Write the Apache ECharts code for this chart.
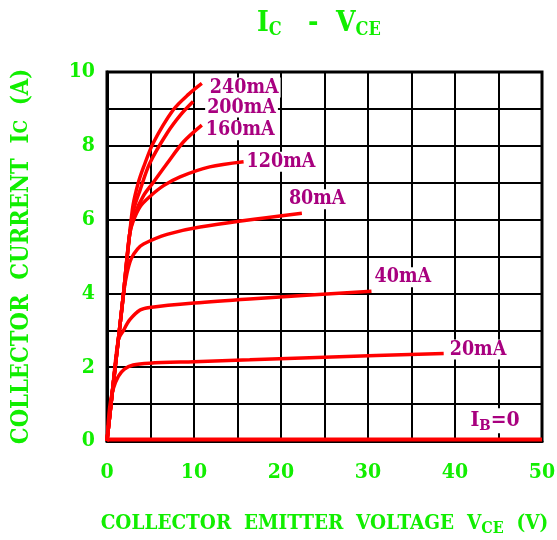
<!DOCTYPE html>
<html><head><meta charset="utf-8">
<script src="https://cdn.jsdelivr.net/npm/echarts@6/dist/echarts.min.js"></script>
<style>html,body{margin:0;padding:0;background:#fff}#c{width:557px;height:540px}</style>
</head><body><div id="c"></div>
<script>
const xTicks = [0, 10, 20, 30, 40, 50];
const yTicks = [0, 2, 4, 6, 8, 10];
const seriesNames = ['240mA', '200mA', '160mA', '120mA', '80mA', '40mA', '20mA', 'IB=0'];
const ib240 = [[0,0],[0.6,1.3],[1.3,2.74],[1.9,4.0],[2.6,5.6],[3.0,6.4],[3.6,7.0],[4.2,7.42],[5.3,8.07],[7.6,8.97],[9.4,9.4],[10.9,9.69]];
const ib200 = [[0,0],[0.6,1.3],[1.3,2.74],[1.9,4.0],[2.6,5.6],[3.1,6.3],[3.8,6.8],[4.9,7.52],[6.9,8.34],[8.5,8.85],[9.9,9.2]];
const ib160 = [[0,0],[0.6,1.3],[1.3,2.74],[1.9,4.0],[2.6,5.6],[3.2,6.15],[4.2,6.65],[5.3,7.0],[6.9,7.52],[8.8,8.11],[10.9,8.56]];
const ib120 = [[0,0],[0.6,1.3],[1.3,2.74],[1.9,4.0],[2.6,5.6],[3.0,5.95],[3.8,6.35],[4.9,6.62],[6.5,6.92],[8.4,7.16],[11.8,7.43],[15.7,7.57]];
const ib80  = [[0,0],[0.6,1.3],[1.3,2.74],[1.9,4.0],[2.3,4.55],[2.8,4.95],[3.5,5.2],[4.2,5.34],[6.9,5.6],[10.7,5.8],[22.4,6.17]];
const ib40  = [[0,0],[0.6,1.3],[1.3,2.74],[1.9,3.0],[2.6,3.28],[3.8,3.55],[4.9,3.62],[10,3.74],[16.4,3.85],[30.4,4.06]];
const ib20  = [[0,0],[0.3,0.9],[0.7,1.4],[1.3,1.75],[2,1.95],[3,2.06],[4.9,2.11],[10,2.15],[16.4,2.2],[25,2.27],[38.7,2.37]];
const ib0   = [[0,0.04],[50,0.04]];

const GREEN = '#11ee00';
const MAG = '#a8007f';
const FONT = '"DejaVu Serif Condensed", "DejaVu Serif", serif';
const offsets = [[-2,4],[4,6],[-6,5],[-7,0],[-23,-14],[-7,-14],[-4,-4]];
const allData = [ib240, ib200, ib160, ib120, ib80, ib40, ib20];

const series = allData.map((d, i) => ({
  name: seriesNames[i], type: 'line', data: d, smooth: 0.3, showSymbol: false,
  lineStyle: {color: '#ff0000', width: 3.5}, z: 5,
  endLabel: {show: true, formatter: seriesNames[i], color: MAG, fontFamily: FONT, fontWeight: 'bold',
    fontSize: 19.5, backgroundColor: '#fff', padding: [0,2], offset: offsets[i]}
}));
series.push({name: seriesNames[7], type: 'line', data: ib0, showSymbol: false,
  lineStyle: {color: '#ff0000', width: 4}, z: 6,
  markPoint: {symbol: 'rect', symbolSize: 1, itemStyle: {color: 'transparent'},
    data: [{coord: [44.6, 0.55], label: {show: true, formatter: '{a|I}{b|B}{a|=0}', backgroundColor: '#fff', padding: [0,2],
      rich: {a: {color: MAG, fontFamily: FONT, fontWeight: 'bold', fontSize: 21},
             b: {color: MAG, fontFamily: FONT, fontWeight: 'bold', fontSize: 15, verticalAlign: 'bottom', padding: [10,0,0,0]}}}}]}
});

const chart = echarts.init(document.getElementById('c'));
chart.setOption({
  animation: false,
  backgroundColor: '#fff',
  title: {left: 252, top: 4, text: '{a|I}{b|C}{a|   -  V}{b|CE}',
    textStyle: {rich: {a: {color: GREEN, fontFamily: FONT, fontWeight: 'bold', fontSize: 28},
      b: {color: GREEN, fontFamily: FONT, fontWeight: 'bold', fontSize: 18, verticalAlign: 'bottom', padding: [12,0,0,0]}}}},
  grid: {left: 107, right: 15, top: 72, bottom: 99, outerBoundsMode: 'none', show: true, borderColor: '#000', borderWidth: 3, backgroundColor: '#fff'},
  xAxis: {type: 'value', min: 0, max: 50, interval: 5,
    name: '{a|COLLECTOR  EMITTER  VOLTAGE  V}{b|CE}{a|  (V)}', nameLocation: 'middle', nameGap: 70,
    nameTextStyle: {rich: {a: {color: GREEN, fontFamily: FONT, fontWeight: 'bold', fontSize: 20.5},
      b: {color: GREEN, fontFamily: FONT, fontWeight: 'bold', fontSize: 16, verticalAlign: 'bottom', padding: [10,0,0,0]}}},
    axisLine: {lineStyle: {color: '#000', width: 3}}, axisTick: {show: false},
    axisLabel: {color: GREEN, fontFamily: FONT, fontWeight: 'bold', fontSize: 21, margin: 21,
      formatter: v => xTicks.includes(v) ? String(v) : ''},
    splitLine: {lineStyle: {color: '#000', width: 2}}},
  yAxis: {type: 'value', min: 0, max: 10, interval: 1,
    name: '{a|COLLECTOR  CURRENT  I}{b|C}{a|  (A)}', nameLocation: 'middle', nameGap: 73,
    nameTextStyle: {rich: {a: {color: GREEN, fontFamily: FONT, fontWeight: 'bold', fontSize: 23.5},
      b: {color: GREEN, fontFamily: FONT, fontWeight: 'bold', fontSize: 19}}},
    axisLine: {lineStyle: {color: '#000', width: 3}}, axisTick: {show: false},
    axisLabel: {color: GREEN, fontFamily: FONT, fontWeight: 'bold', fontSize: 21, margin: 12,
      formatter: v => yTicks.includes(v) ? String(v) : ''},
    splitLine: {lineStyle: {color: '#000', width: 2}}},
  series: series
});
</script></body></html>
